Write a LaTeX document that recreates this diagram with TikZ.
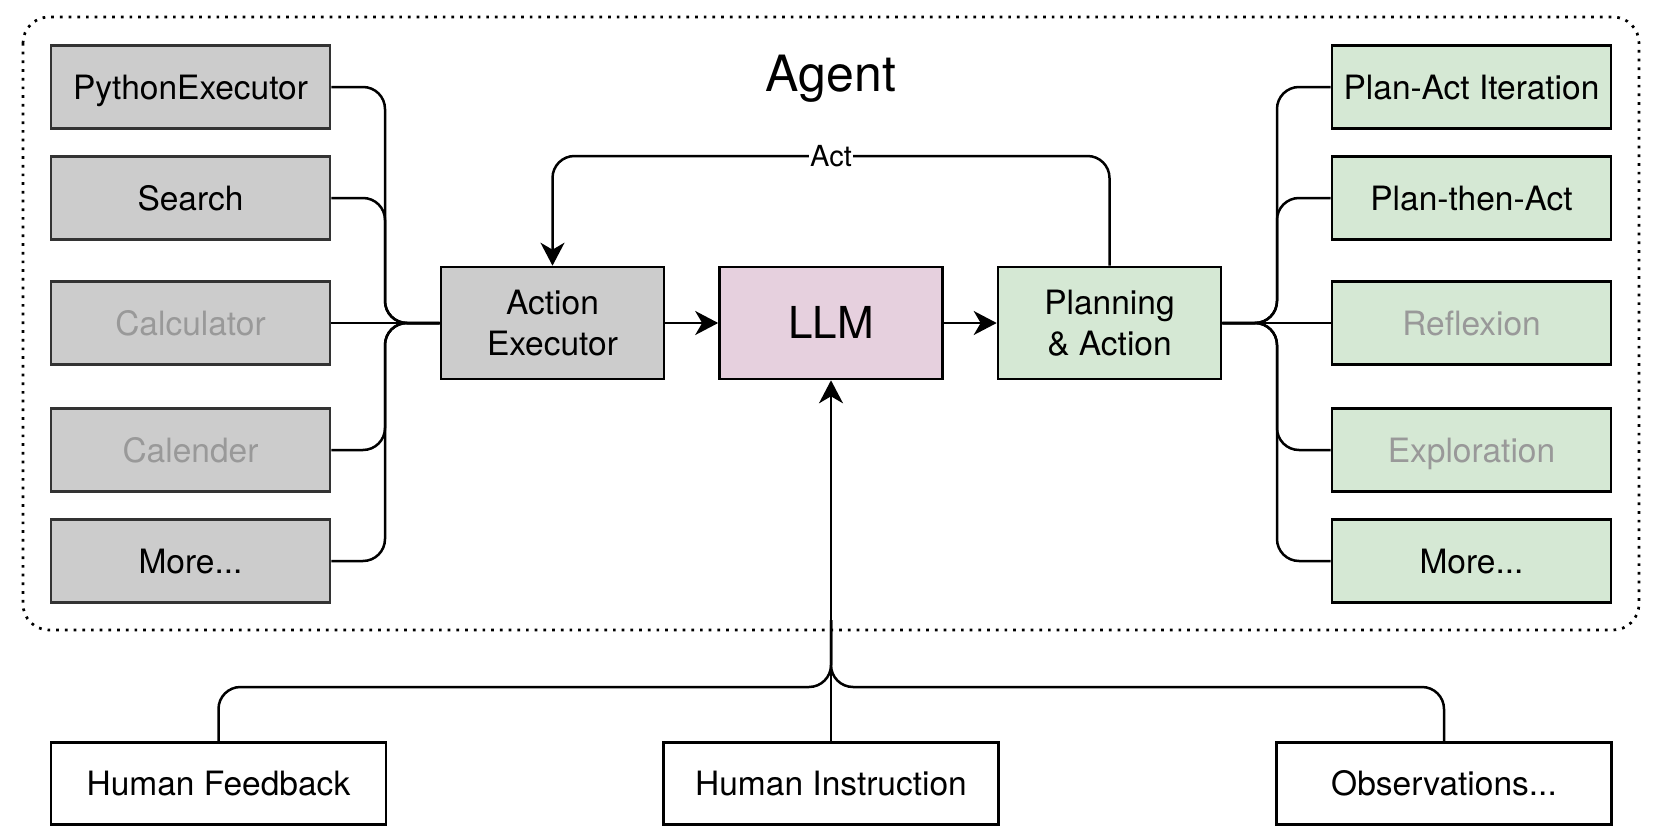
\documentclass[tikz,border=0pt]{standalone}
\usepackage{fontspec}
\setmainfont{TeX Gyre Heros}
\usetikzlibrary{arrows.meta}
\definecolor{boxgrey}{HTML}{CCCCCC}
\definecolor{boxpink}{HTML}{E6D0DE}
\definecolor{boxgreen}{HTML}{D5E8D4}
\definecolor{txtgrey}{HTML}{999999}
\definecolor{strokegrey}{HTML}{333333}
\begin{document}
\begin{tikzpicture}[x=1pt,y=-1pt,
  every node/.style={font=\fontsize{33.5}{39}\selectfont},
  basebox/.style={draw, line width=2.6pt, inner sep=0pt, align=center},
  onel/.style={text height=28pt, text depth=4pt},
  greybox/.style={basebox, onel, draw=strokegrey, fill=boxgrey, minimum width=279pt, minimum height=83pt},
  greenbox/.style={basebox, onel, draw=black, fill=boxgreen, minimum width=279pt, minimum height=83pt},
  midbox/.style={basebox, draw=black, minimum width=223pt, minimum height=112pt},
  whitebox/.style={basebox, onel, draw=black, fill=white, minimum width=335pt, minimum height=82pt},
  faded/.style={text=txtgrey},
  conn/.style={line width=2.5pt, rounded corners=22pt},
  arr/.style={-{Stealth[length=23pt, width=24pt, inset=7pt]}}
]
\useasboundingbox (0,0) rectangle (1658,835);

% Agent container
\draw[line width=2.7pt, dash pattern=on 2.7pt off 6pt, rounded corners=26pt] (23,17) rectangle (1639,630);
\node (agent) at (831,79) {\fontsize{50}{60}\selectfont Agent};

% left column
\node[greybox] (pe) at (190.5,87) {PythonExecutor};
\node[greybox] (search) at (190.5,198) {Search};
\node[greybox, faded] (calc) at (190.5,323) {Calculator};
\node[greybox, faded] (cal) at (190.5,450) {Calender};
\node[greybox] (lmore) at (190.5,561) {More...};

% middle
\node[midbox, fill=boxgrey, draw=black] (ae) at (552.5,323) {Action\\[2pt]Executor};
\node[midbox, fill=boxpink, text height=34pt, text depth=4pt] (llm) at (831,323) {\fontsize{44}{50}\selectfont LLM};
\node[midbox, fill=boxgreen] (pa) at (1109.5,323) {Planning\\[2pt]\& Action};

% right column
\node[greenbox] (pai) at (1471.5,87) {Plan-Act Iteration};
\node[greenbox] (pta) at (1471.5,198) {Plan-then-Act};
\node[greenbox, faded] (refl) at (1471.5,323) {Reflexion};
\node[greenbox, faded] (expl) at (1471.5,450) {Exploration};
\node[greenbox] (rmore) at (1471.5,561) {More...};

% bottom
\node[whitebox] (hf) at (218.5,783.5) {Human Feedback};
\node[whitebox] (hi) at (831,783.5) {Human Instruction};
\node[whitebox] (obs) at (1444,783.5) {Observations...};

% junction coordinates
\coordinate (tl) at (385,323);
\coordinate (tr) at (1277,323);
\coordinate (actc) at (831,156);
\coordinate (bus) at (831,687);
\coordinate (busup) at (831,620);

% left connectors
\draw[conn] (pe.east) -| (tl) -- (ae.west);
\draw[conn] (search.east) -| (tl) -- (ae.west);
\draw[conn] (calc.east) -- (ae.west);
\draw[conn] (cal.east) -| (tl) -- (ae.west);
\draw[conn] (lmore.east) -| (tl) -- (ae.west);

% right connectors
\draw[conn] (pa.east) -- (tr) |- (pai.west);
\draw[conn] (pa.east) -- (tr) |- (pta.west);
\draw[conn] (pa.east) -- (refl.west);
\draw[conn] (pa.east) -- (tr) |- (expl.west);
\draw[conn] (pa.east) -- (tr) |- (rmore.west);

% main flow
\draw[conn, arr] (ae.east) -- (llm.west);
\draw[conn, arr] (llm.east) -- (pa.west);

% Act loop
\draw[conn, arr] (pa.north) |- (actc) -| (ae.north);
\node[fill=white, inner sep=1pt, font=\fontsize{29}{34}\selectfont] (actlabel) at (actc) {Act};

% bottom inputs
\draw[conn, arr] (hi.north) -- (llm.south);
\draw[conn] (hf.north) |- (bus) -- (busup);
\draw[conn] (obs.north) |- (bus) -- (busup);
\end{tikzpicture}
\end{document}
